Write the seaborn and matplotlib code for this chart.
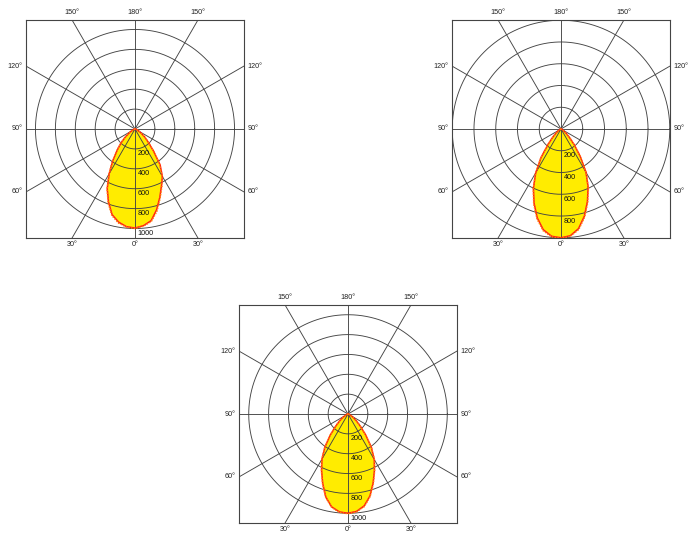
import numpy as np
import pandas as pd
import seaborn as sns
import matplotlib
matplotlib.use('Agg')
import matplotlib.pyplot as plt

sns.set_style('white')
plt.rcParams['font.family'] = ['Liberation Sans', 'DejaVu Sans']

# gamma angles (deg) and luminous intensity (cd) per panel
gamma = [0, 5, 10, 15, 20, 25, 30, 35, 40, 45, 50, 55, 60, 65, 70, 75, 80, 85, 90]

p1_left = [995, 985, 950, 890, 780, 660, 520, 390, 280, 200, 130, 75, 45, 25, 12, 6, 3, 1, 0]
p1_right = [995, 975, 935, 840, 730, 630, 550, 440, 290, 190, 130, 80, 50, 30, 15, 8, 4, 2, 0]
p1_dot_left = [1000, 990, 960, 900, 790, 665, 525, 395, 285, 205, 135, 78, 47, 26, 13, 6, 3, 1, 0]
p1_dot_right = [1000, 980, 945, 855, 740, 640, 545, 430, 295, 195, 132, 82, 52, 30, 15, 8, 4, 2, 0]

p2_left = [1000, 990, 940, 845, 725, 600, 465, 320, 185, 110, 62, 36, 20, 10, 5, 3, 1, 0, 0]
p2_right = [1000, 985, 930, 830, 710, 590, 460, 310, 190, 110, 60, 35, 20, 10, 5, 3, 1, 0, 0]
p2_dot_left = [1005, 995, 950, 855, 735, 605, 470, 325, 190, 112, 63, 36, 20, 10, 5, 3, 1, 0, 0]
p2_dot_right = [1005, 990, 940, 840, 720, 598, 462, 315, 192, 112, 61, 35, 20, 10, 5, 3, 1, 0, 0]

p3_left = [1000, 990, 950, 865, 745, 630, 525, 405, 280, 180, 115, 70, 40, 22, 10, 5, 2, 1, 0]
p3_right = [1000, 985, 940, 855, 740, 630, 530, 410, 280, 180, 115, 70, 40, 22, 10, 5, 2, 1, 0]
p3_dot_left = [1005, 995, 955, 870, 750, 635, 530, 410, 285, 183, 117, 71, 41, 22, 10, 5, 2, 1, 0]
p3_dot_right = [1005, 990, 948, 862, 748, 636, 534, 414, 284, 182, 116, 71, 41, 22, 10, 5, 2, 1, 0]

ring_values = [200, 400, 600, 800, 1000]
spoke_angles = [0, 30, 60, 90, 120, 150]
angle_labels = ['0°', '30°', '60°', '90°', '120°', '150°', '180°']

panels = [
    dict(pos=[26, 20], lim=1095, left=p1_left, right=p1_right, dl=p1_dot_left, dr=p1_dot_right),
    dict(pos=[452, 20], lim=1002, left=p2_left, right=p2_right, dl=p2_dot_left, dr=p2_dot_right),
    dict(pos=[239, 305], lim=1098, left=p3_left, right=p3_right, dl=p3_dot_left, dr=p3_dot_right),
]

W, H = 696, 533
BOX = 218
fig = plt.figure(figsize=(W / 100, H / 100), dpi=100)


def curve(left, right):
    g = np.radians(gamma)
    l = np.array(left, dtype=float)
    r = np.array(right, dtype=float)
    x = np.concatenate([-(l * np.sin(g))[::-1], (r * np.sin(g))[1:]])
    y = np.concatenate([-(l * np.cos(g))[::-1], -(r * np.cos(g))[1:]])
    return pd.DataFrame({'x': x, 'y': y})


for p in panels:
    x0, y0 = p['pos']
    ax = fig.add_axes([x0 / W, 1 - (y0 + BOX) / H, BOX / W, BOX / H])
    lim = p['lim']
    ax.set_xlim(-lim, lim)
    ax.set_ylim(-lim, lim)
    ax.set_aspect('equal')
    ax.set_xticks([])
    ax.set_yticks([])
    for s in ax.spines.values():
        s.set_color('#444444')
        s.set_linewidth(0.8)

    # yellow body + outlines
    solid = curve(p['left'], p['right'])
    dotted = curve(p['dl'], p['dr'])
    ax.fill(solid['x'], solid['y'], color='#ffec00', zorder=1, lw=0)
    sns.lineplot(data=dotted, x='x', y='y', sort=False, estimator=None, ax=ax,
                 color='#ff8a00', lw=1.0, linestyle=(0, (1, 1)), zorder=4)
    sns.lineplot(data=solid, x='x', y='y', sort=False, estimator=None, ax=ax,
                 color='#ff1a1a', lw=1.1, zorder=3)

    # grid rings and spokes
    t = np.linspace(0, 2 * np.pi, 300)
    for rv in ring_values:
        ax.plot(rv * np.cos(t), rv * np.sin(t), color='#444444', lw=0.65, zorder=2)
        if rv < lim * 0.95:
            ax.text(25, -rv - 15, str(rv), fontsize=5.2, ha='left', va='top',
                    color='#111111', zorder=5)
    for a in spoke_angles:
        ar = np.radians(a)
        L = 3000
        ax.plot([-L * np.sin(ar), L * np.sin(ar)], [L * np.cos(ar), -L * np.cos(ar)],
                color='#444444', lw=0.65, zorder=2)

    # angle labels around the box
    off = lim * np.tan(np.radians(30))
    fs = 5.2
    tc = '#222222'
    ax.text(0, lim * 1.068, angle_labels[6], fontsize=fs, ha='center', va='center', color=tc)
    for sx in (-1, 1):
        ax.text(sx * off, lim * 1.068, angle_labels[5], fontsize=fs, ha='center', va='center', color=tc)
        ax.text(sx * off, -lim * 1.062, angle_labels[1], fontsize=fs, ha='center', va='center', color=tc)
        ha = 'right' if sx < 0 else 'left'
        ax.text(sx * lim * 1.035, off, angle_labels[4], fontsize=fs, ha=ha, va='center', color=tc)
        ax.text(sx * lim * 1.035, 0, angle_labels[3], fontsize=fs, ha=ha, va='center', color=tc)
        ax.text(sx * lim * 1.035, -off, angle_labels[2], fontsize=fs, ha=ha, va='center', color=tc)
    ax.text(0, -lim * 1.062, angle_labels[0], fontsize=fs, ha='center', va='center', color=tc)
    ax.set_xlabel('')
    ax.set_ylabel('')

fig.savefig('out.png', dpi=100)
